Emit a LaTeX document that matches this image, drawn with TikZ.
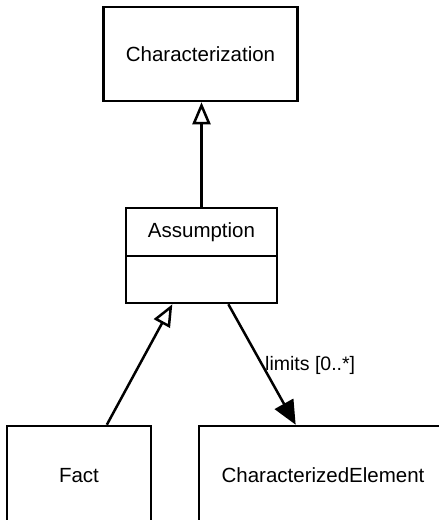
\documentclass[tikz,border=0pt]{standalone}
\usepackage{fontspec}
\setmainfont{Liberation Sans}
\usetikzlibrary{arrows.meta,calc}

\tikzset{
  classbox/.style={draw=black, line width=2.5pt, fill=white, rectangle,
    inner sep=0pt, font=\fontsize{20.5}{24}\selectfont},
  conn/.style={draw=black, line width=2.5pt},
  generalization/.style={conn, -{Triangle[open, length=22pt, width=18pt, line width=2.5pt]}},
  navigates/.style={conn, -{Triangle[length=24pt, width=21pt]}},
  rolelabel/.style={font=\fontsize{19.5}{23}\selectfont, inner sep=0pt, anchor=west}
}

\begin{document}
\begin{tikzpicture}[x=1pt, y=-1pt]
  \useasboundingbox (0,0) rectangle (439,520);

  % classes
  \node[classbox, minimum width=194pt, minimum height=94pt] (characterization) at (200.5,54) {Characterization};
  \node[classbox, minimum width=151pt, minimum height=48pt] (assumption) at (201.5,232) {Assumption};
  \node[classbox, minimum width=151pt, minimum height=47pt] (assumptionattrs) at (201.5,279.5) {};
  % the lower classes run past the bottom edge of the page
  \node[classbox, minimum width=144pt, minimum height=104pt] (fact) at (79,478) {\raisebox{5pt}{Fact}};
  \node[classbox, minimum width=260pt, minimum height=104pt] (charelem) at (329,478) {\hspace*{-12pt}\raisebox{5pt}{CharacterizedElement}};

  % attachment points along the box borders
  \coordinate (factTop) at ($(fact.north west)!0.69!(fact.north east)$);
  \coordinate (assumGen) at ($(assumptionattrs.south west)!0.31!(assumptionattrs.south east)$);
  \coordinate (assumNav) at ($(assumptionattrs.south west)!0.675!(assumptionattrs.south east)$);
  \coordinate (charelemTop) at ($(charelem.north west)!0.373!(charelem.north east)$);

  % connectors
  \draw[generalization] (assumption.north) -- (assumption.north |- characterization.south);
  \draw[generalization] (factTop) -- (assumGen);
  \draw[navigates] (assumNav) -- (charelemTop);

  \node[rolelabel] (limitslabel) at (265,365) {limits [0..*]};
\end{tikzpicture}
\end{document}
